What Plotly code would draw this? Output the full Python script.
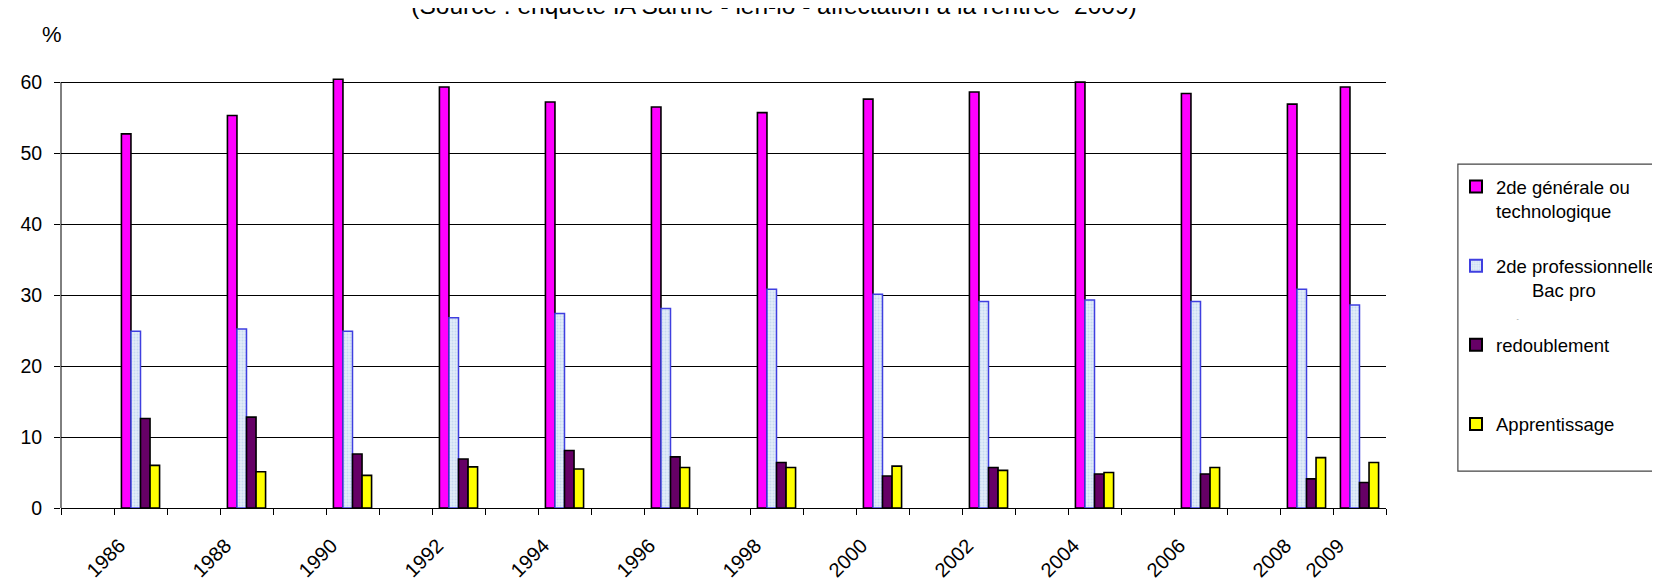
import plotly.graph_objects as go

# ---- data ----
years = [1986, 1988, 1990, 1992, 1994, 1996, 1998, 2000, 2002, 2004, 2006, 2008, 2009]
tick_labels = [str(y) for y in years]
gen_tech = [52.7, 55.3, 60.4, 59.3, 57.2, 56.5, 55.7, 57.6, 58.6, 60.0, 58.4, 56.9, 59.3]
pro_bacpro = [24.9, 25.2, 24.9, 26.8, 27.4, 28.1, 30.8, 30.1, 29.1, 29.3, 29.1, 30.8, 28.6]
redoublement = [12.6, 12.8, 7.6, 6.9, 8.1, 7.2, 6.4, 4.5, 5.7, 4.8, 4.8, 4.1, 3.6]
apprentissage = [6.0, 5.1, 4.6, 5.8, 5.5, 5.7, 5.7, 5.9, 5.3, 5.0, 5.7, 7.1, 6.4]
y_ticks = [0, 10, 20, 30, 40, 50, 60]

NB = "\u00a0"
names = [
    "2de générale ou<br>technologique<br>" + NB,
    "2de professionnelle<br>" + NB * 7 + "Bac pro<br>" + NB * 4
    + "<span style='font-size:7px;color:#999999'>-</span>",
    "redoublement<br>" + NB + "<br>" + NB,
    "Apprentissage<br>" + NB + "<br>" + NB,
]

FONT = "Liberation Sans, Arial, sans-serif"

fig = go.Figure()
fig.add_trace(go.Bar(x=years, y=gen_tech, name=names[0], legendgroup="a",
                     marker=dict(color="#FF00FF", line=dict(color="#000000", width=1.6))))
fig.add_trace(go.Bar(x=years, y=pro_bacpro, name=names[1], legendgroup="b",
                     marker=dict(color="#DCE8F7", line=dict(color="#3F3FE0", width=1.5),
                                 pattern=dict(shape=".", fgcolor="#A9C6EA", bgcolor="#E2ECF8",
                                              size=3, solidity=0.35))))
fig.add_trace(go.Bar(x=years, y=redoublement, name=names[2], legendgroup="c",
                     marker=dict(color="#660066", line=dict(color="#000000", width=1.6))))
fig.add_trace(go.Bar(x=years, y=apprentissage, name=names[3], legendgroup="d",
                     marker=dict(color="#FFFF00", line=dict(color="#000000", width=1.6))))

W, H = 1660, 585
L, R = 51, 1378
Y0, Y60 = 526.5, 74.7
ppu = (Y0 - Y60) / 60.0
ytop = 61.0
T = Y0 - ytop * ppu
PW, PH = R - L, Y0 - T

# legend frame (px in the page) -> paper coordinates
box_l, box_r, box_t, box_b = 1450, 1664, 161.7, 487.3

fig.update_layout(
    width=W, height=H,
    margin=dict(l=L, r=W - R, t=T, b=H - Y0, pad=0),
    paper_bgcolor="white", plot_bgcolor="white",
    font=dict(family=FONT, size=18, color="black"),
    barmode="group", bargap=0.28, bargroupgap=0,
    showlegend=True,
    title=dict(text="(Source : enquête IA Sarthe - ien-io - affectation à la rentrée  2009)",
               font=dict(family=FONT, size=24.5, color="black"),
               x=766 / W, xanchor="center", xref="container",
               y=1 - 6 / H, yanchor="bottom", yref="container"),
    legend=dict(xref="container", yref="container", x=1448 / W, xanchor="left",
                y=1 - 160 / H, yanchor="top", borderwidth=0,
                bgcolor="rgba(0,0,0,0)", font=dict(family=FONT, size=18.5, color="black"),
                valign="top", tracegroupgap=4, itemsizing="constant"),
    xaxis=dict(range=[1984.5, 2009.5], tickmode="array", tickvals=years, ticktext=tick_labels,
               tickangle=-45, ticks="", showgrid=False, zeroline=False,
               showline=True, linecolor="black", linewidth=1,
               tickfont=dict(family=FONT, size=20, color="black"),
               ticklabelstandoff=17, ticklabelshift=-21,
               minor=dict(tickmode="linear", tick0=1984.5, dtick=1, ticks="outside",
                          ticklen=6, tickcolor="black", tickwidth=1, showgrid=False)),
    yaxis=dict(range=[0, ytop], tickmode="array", tickvals=y_ticks, ticks="outside",
               ticklen=6, tickcolor="black", showgrid=True, gridcolor="#000000",
               gridwidth=1, zeroline=False, showline=False,
               tickfont=dict(family=FONT, size=19.5, color="black"),
               ticklabelstandoff=8),
    annotations=[dict(text="%", xref="paper", yref="paper",
                      x=(42 - L) / PW, y=(Y0 - 24) / PH,
                      xanchor="center", yanchor="middle", showarrow=False,
                      font=dict(family=FONT, size=22, color="black"))],
    shapes=[
        dict(type="line", xref="paper", yref="y", x0=0, x1=0, y0=0, y1=y_ticks[-1],
             line=dict(color="black", width=1)),
        dict(type="rect", xref="paper", yref="paper", layer="below",
             x0=(box_l - L) / PW, x1=(box_r - L) / PW,
             y0=(Y0 - box_b) / PH, y1=(Y0 - box_t) / PH,
             line=dict(color="#444444", width=1.2), fillcolor="white"),
    ],
)

fig.write_html("out.html")
